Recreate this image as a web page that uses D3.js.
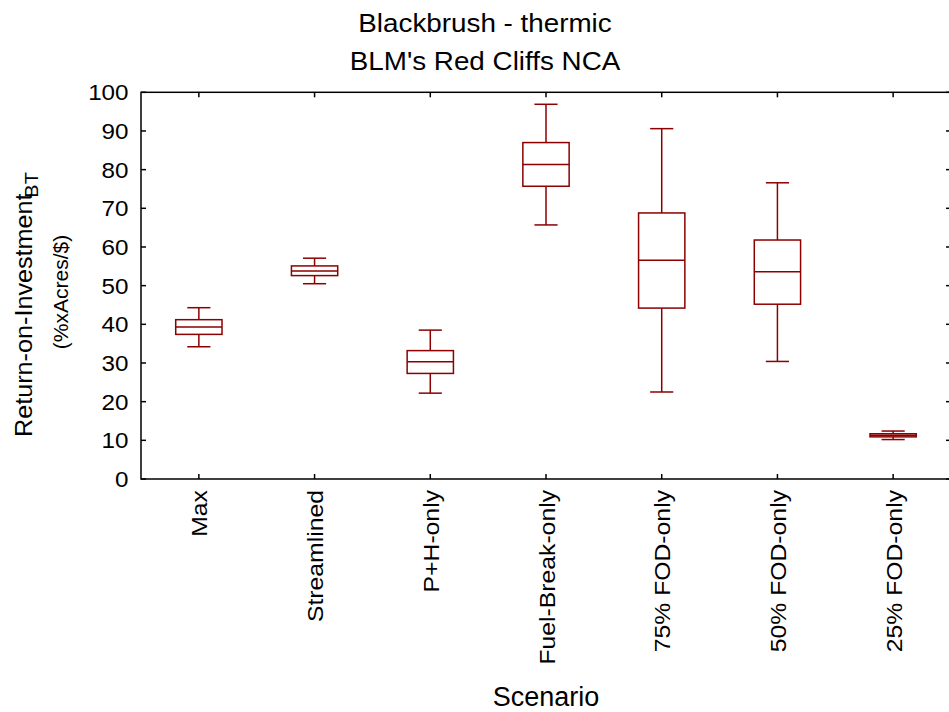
<!DOCTYPE html>
<html>
<head>
<meta charset="utf-8">
<script src="https://cdn.jsdelivr.net/npm/d3@7"></script>
<style>
  html, body { margin: 0; padding: 0; background: #fff; }
  svg { display: block; font-family: "Liberation Sans", Arial, Helvetica, sans-serif; }
</style>
</head>
<body>
<svg id="chart" width="949" height="712"></svg>
<script>
// ---- Data ----
const categories = ["Max", "Streamlined", "P+H-only", "Fuel-Break-only", "75% FOD-only", "50% FOD-only", "25% FOD-only"];
const whiskerLow  = [34.2, 50.5, 22.2, 65.7, 22.5, 30.4, 10.2];
const q1Values    = [37.4, 52.6, 27.3, 75.7, 44.2, 45.2, 10.9];
const medians     = [39.3, 53.8, 30.3, 81.3, 56.6, 53.6, 11.3];
const q3Values    = [41.2, 55.1, 33.2, 87.0, 68.8, 61.8, 11.7];
const whiskerHigh = [44.3, 57.1, 38.5, 96.9, 90.6, 76.6, 12.4];
const yTicks = [0, 10, 20, 30, 40, 50, 60, 70, 80, 90, 100];

const titleLines = ["Blackbrush - thermic", "BLM's Red Cliffs NCA"];
const xTitle = "Scenario";
const yTitleMain = "Return-on-Investment";
const yTitleSub = "BT";
const yTitleUnits = "(%xAcres/$)";

// ---- Layout ----
const svg = d3.select("#chart");
const plot = { left: 141, right: 951, top: 92.3, bottom: 479 };
const boxColor = "#8b0000";

const x = d3.scaleBand().domain(categories).range([plot.left, plot.right]).padding(0);
const y = d3.scaleLinear().domain([0, 100]).range([plot.bottom, plot.top]);

const rows = categories.map((c, i) => ({
  cat: c, lo: whiskerLow[i], q1: q1Values[i], med: medians[i], q3: q3Values[i], hi: whiskerHigh[i]
}));

// ---- Boxes ----
const bw = x.bandwidth() * 0.4;
const cw = x.bandwidth() * 0.2;
const g = svg.append("g").attr("stroke", boxColor).attr("stroke-width", 1.5).attr("fill", "none");
rows.forEach(d => {
  const cx = x(d.cat) + x.bandwidth() / 2;
  g.append("line").attr("x1", cx).attr("x2", cx).attr("y1", y(d.hi)).attr("y2", y(d.q3));
  g.append("line").attr("x1", cx).attr("x2", cx).attr("y1", y(d.q1)).attr("y2", y(d.lo));
  g.append("line").attr("x1", cx - cw / 2).attr("x2", cx + cw / 2).attr("y1", y(d.hi)).attr("y2", y(d.hi));
  g.append("line").attr("x1", cx - cw / 2).attr("x2", cx + cw / 2).attr("y1", y(d.lo)).attr("y2", y(d.lo));
  g.append("rect").attr("x", cx - bw / 2).attr("y", y(d.q3)).attr("width", bw).attr("height", y(d.q1) - y(d.q3)).attr("fill", "#fff");
  g.append("line").attr("x1", cx - bw / 2).attr("x2", cx + bw / 2).attr("y1", y(d.med)).attr("y2", y(d.med));
});

// ---- Axes (ticks inward) ----
const tl = 5;
const axG = svg.append("g").attr("stroke", "#000").attr("stroke-width", 1.5);
yTicks.forEach(t => {
  axG.append("line").attr("x1", plot.left).attr("x2", plot.left + tl).attr("y1", y(t)).attr("y2", y(t));
  axG.append("line").attr("x1", plot.right - tl).attr("x2", plot.right).attr("y1", y(t)).attr("y2", y(t));
});
categories.forEach(c => {
  const cx = x(c) + x.bandwidth() / 2;
  axG.append("line").attr("x1", cx).attr("x2", cx).attr("y1", plot.bottom).attr("y2", plot.bottom - tl);
  axG.append("line").attr("x1", cx).attr("x2", cx).attr("y1", plot.top).attr("y2", plot.top + tl);
});
axG.append("rect").attr("x", plot.left).attr("y", plot.top)
  .attr("width", plot.right - plot.left).attr("height", plot.bottom - plot.top).attr("fill", "none");

// y tick labels
yTicks.forEach(t => {
  svg.append("text").attr("transform", `translate(128.5,${y(t)}) scale(1.1,1)`)
    .attr("text-anchor", "end").attr("dy", "0.36em").attr("font-size", 22).attr("fill", "#000").text(t);
});

// x tick labels
categories.forEach(c => {
  const cx = x(c) + x.bandwidth() / 2;
  svg.append("text").attr("transform", `translate(${cx + 8.5},490) rotate(-90) scale(1.1,1)`)
    .attr("text-anchor", "end").attr("font-size", 22.5).attr("fill", "#000").text(c);
});

// titles
titleLines.forEach((t, i) => {
  svg.append("text").attr("transform", `translate(485,${[31.5, 70][i]}) scale(1.07,1)`)
    .attr("text-anchor", "middle").attr("font-size", 26).attr("fill", "#000").text(t);
});

// x axis title
svg.append("text").attr("transform", `translate(546,706) scale(1.0,1)`)
  .attr("text-anchor", "middle").attr("font-size", 27).attr("fill", "#000").text(xTitle);

// y axis title
const yt = svg.append("text").attr("transform", `translate(32,437) rotate(-90) scale(1.05,1)`)
  .attr("text-anchor", "start").attr("font-size", 24).attr("fill", "#000");
yt.append("tspan").text(yTitleMain);
yt.append("tspan").attr("font-size", 19).attr("dy", 6).attr("dx", -4).text(yTitleSub);

svg.append("text").attr("transform", `translate(68,292) rotate(-90) scale(1.05,1)`)
  .attr("text-anchor", "middle").attr("font-size", 20).attr("fill", "#000").text(yTitleUnits);
</script>
</body>
</html>
